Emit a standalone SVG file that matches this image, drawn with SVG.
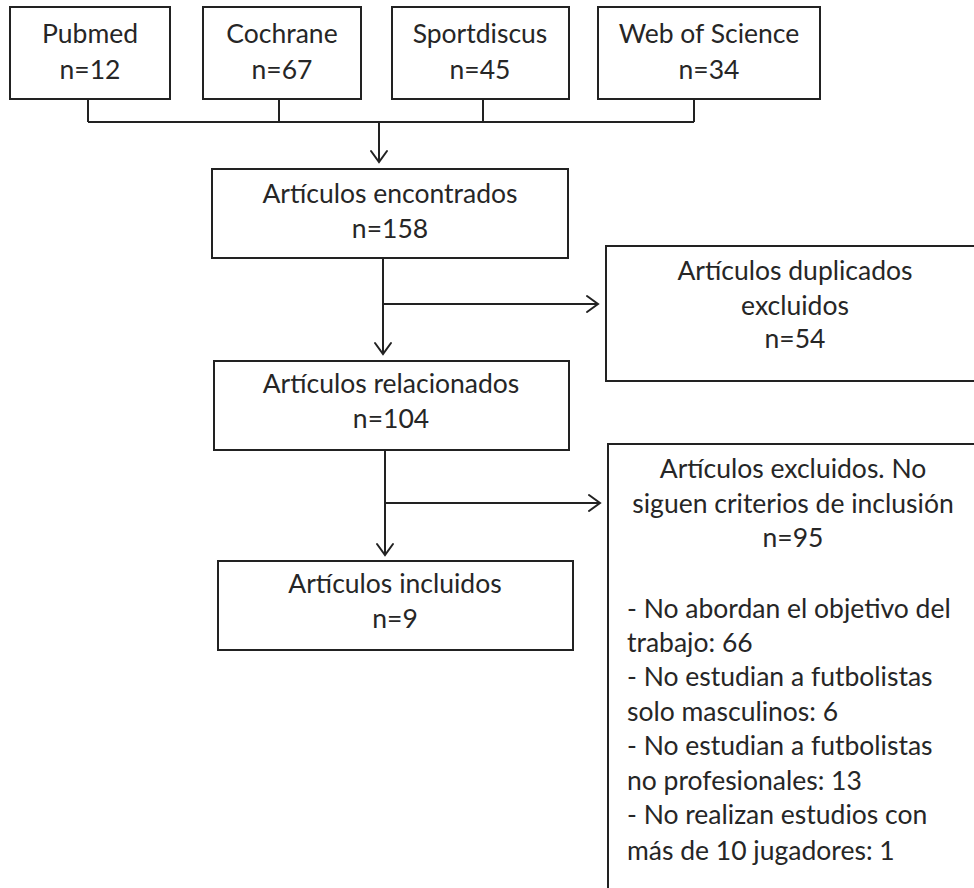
<svg xmlns="http://www.w3.org/2000/svg" width="974" height="888" viewBox="0 0 974 888">
<defs>
<style>
.box{fill:#fff;stroke:#222;stroke-width:2}
.ln{fill:none;stroke:#222;stroke-width:2}
.ah{fill:none;stroke:#222;stroke-width:2;stroke-linecap:round;stroke-linejoin:miter}
text{font-family:Lato,"Liberation Sans",sans-serif;font-size:26.5px;fill:#262626}
.c{text-anchor:middle}
</style>
</defs>
<rect width="974" height="888" fill="#fff"/>
<g id="connectors">
<path class="ln" d="M88 99V122M279 99V122M483 99V122M694 99V122M88 122H694M379 122V162"/>
<path class="ah" d="M371 151L379 162L387 151"/>
<path class="ln" d="M383 258V354M383 304H598"/>
<path class="ah" d="M375 343L383 354L391 343"/>
<path class="ah" d="M587 296L598 304L587 312"/>
<path class="ln" d="M385 450V555M385 503H600"/>
<path class="ah" d="M377 544L385 555L393 544"/>
<path class="ah" d="M589 495L600 503L589 511"/>
</g>
<g id="pubmed">
<rect class="box" x="10" y="7" width="160" height="92"/>
<text class="c" x="90" y="43">Pubmed</text>
<text class="c" x="90" y="79">n=12</text>
</g>
<g id="cochrane">
<rect class="box" x="203" y="7" width="158" height="92"/>
<text class="c" x="282" y="43">Cochrane</text>
<text class="c" x="282" y="79">n=67</text>
</g>
<g id="sportdiscus">
<rect class="box" x="392" y="7" width="177" height="92"/>
<text class="c" x="480" y="43">Sportdiscus</text>
<text class="c" x="480" y="79">n=45</text>
</g>
<g id="wos">
<rect class="box" x="598" y="7" width="222" height="92"/>
<text class="c" x="709" y="43">Web of Science</text>
<text class="c" x="709" y="79">n=34</text>
</g>
<g id="encontrados">
<rect class="box" x="212" y="169" width="356" height="89"/>
<text class="c" x="390" y="203">Artículos encontrados</text>
<text class="c" x="390" y="238">n=158</text>
</g>
<g id="duplicados">
<rect class="box" x="606" y="246" width="380" height="135"/>
<text class="c" x="795" y="280">Artículos duplicados</text>
<text class="c" x="795" y="315">excluidos</text>
<text class="c" x="795" y="348">n=54</text>
</g>
<g id="relacionados">
<rect class="box" x="214" y="361" width="355" height="89"/>
<text class="c" x="391" y="393">Artículos relacionados</text>
<text class="c" x="391" y="428">n=104</text>
</g>
<g id="incluidos">
<rect class="box" x="218" y="561" width="355" height="89"/>
<text class="c" x="395" y="593">Artículos incluidos</text>
<text class="c" x="395" y="628">n=9</text>
</g>
<g id="excluidos">
<rect class="box" x="608" y="444" width="380" height="460"/>
<text class="c" x="793" y="478">Artículos excluidos. No</text>
<text class="c" x="793" y="513">siguen criterios de inclusión</text>
<text class="c" x="793" y="547">n=95</text>
<text x="627" y="618">- No abordan el objetivo del</text>
<text x="627" y="652">trabajo: 66</text>
<text x="627" y="686">- No estudian a futbolistas</text>
<text x="627" y="721">solo masculinos: 6</text>
<text x="627" y="755">- No estudian a futbolistas</text>
<text x="627" y="790">no profesionales: 13</text>
<text x="627" y="824">- No realizan estudios con</text>
<text x="627" y="860">más de 10 jugadores: 1</text>
</g>
</svg>
